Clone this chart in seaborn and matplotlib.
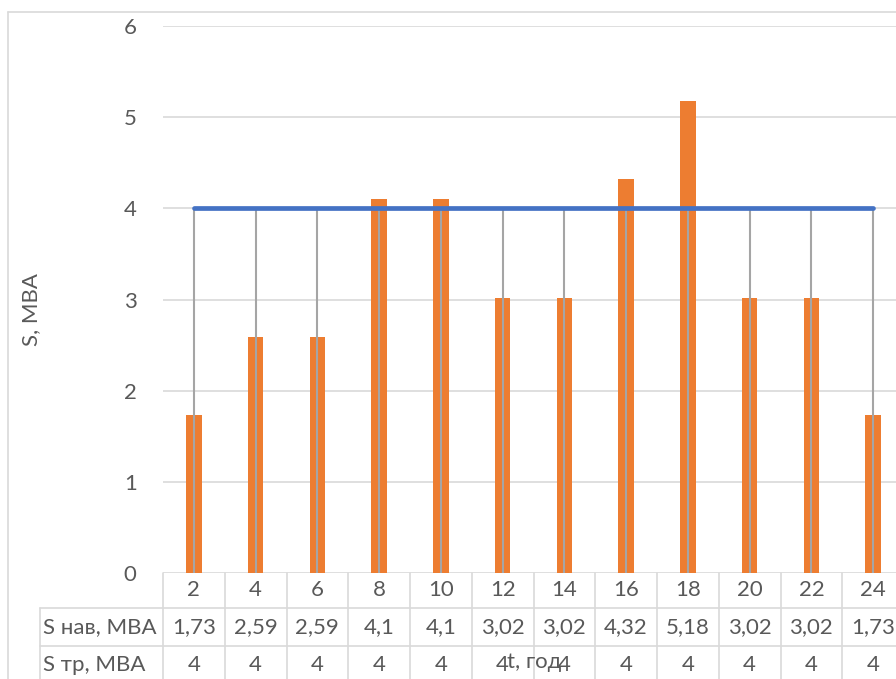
import numpy as np
import pandas as pd
import matplotlib
matplotlib.use("Agg")
import matplotlib.pyplot as plt
import matplotlib.transforms as mtransforms
import seaborn as sns

# Data
hours = [2, 4, 6, 8, 10, 12, 14, 16, 18, 20, 22, 24]
s_load = [1.73, 2.59, 2.59, 4.1, 4.1, 3.02, 3.02, 4.32, 5.18, 3.02, 3.02, 1.73]
s_trans = [4, 4, 4, 4, 4, 4, 4, 4, 4, 4, 4, 4]
row_labels = ["S нав, МВА", "S тр, МВА"]
y_ticks = [0, 1, 2, 3, 4, 5, 6]

sns.set_theme(style="white")
plt.rcParams["font.family"] = ["Lato", "DejaVu Sans"]

TXT = "#595959"
GRID = "#D9D9D9"
ORANGE = "#ED7D31"
BLUE = "#4472C4"
DROP = "#A5A5A5"
FS = 16

W, H = 896, 679
def fx(px):
    return px / W
def fy(py):
    return 1 - py / H

fig = plt.figure(figsize=(W / 100, H / 100), dpi=100)
fig.patch.set_facecolor("white")

# outer chart frame
fig.add_artist(plt.Line2D([fx(8), 1], [fy(12), fy(12)], color=GRID, lw=1.2))
fig.add_artist(plt.Line2D([fx(8), fx(8)], [fy(12), 0], color=GRID, lw=1.2))

ax = fig.add_axes([fx(163), fy(573), (904 - 163) / W, (573 - 26) / H])

df = pd.DataFrame({"t": [str(h) for h in hours], "S": s_load})
sns.barplot(data=df, x="t", y="S", color=ORANGE, width=0.25, saturation=1,
            edgecolor="none", ax=ax, zorder=2)

pos = np.arange(len(hours))
ax.vlines(pos, 0, s_trans, color=DROP, lw=1.5, zorder=3)
sns.lineplot(x=pos, y=s_trans, color=BLUE, lw=3.4, ax=ax, zorder=4,
             solid_capstyle="round")

ax.set_xlim(-0.5, len(hours) - 0.5)
ax.set_ylim(0, 6)
ax.set_yticks(y_ticks)
ax.set_yticklabels([str(v) for v in y_ticks], color=TXT, fontsize=FS)
ax.set_xticks([])
ax.set_xlabel("")
ax.set_ylabel("")
ax.tick_params(axis="y", length=0, pad=19)
for sp in ax.spines.values():
    sp.set_visible(False)
ax.yaxis.grid(True, color=GRID, lw=1.2, zorder=0)
ax.set_axisbelow(True)

# data table under the plot
trans = mtransforms.blended_transform_factory(ax.transData, fig.transFigure)
for b in np.arange(-0.5, len(hours) + 0.5, 1.0):
    ax.plot([b, b], [fy(573), 0], color=GRID, lw=1.2, transform=trans,
            clip_on=False, zorder=1)
for yy in (608, 646):
    fig.add_artist(plt.Line2D([fx(40), 1], [fy(yy), fy(yy)], color=GRID, lw=1.2))
fig.add_artist(plt.Line2D([fx(40), fx(40)], [fy(608), 0], color=GRID, lw=1.2))

def fmt(v):
    return f"{v:g}".replace(".", ",")

for i, h in enumerate(hours):
    ax.text(i, fy(590), str(h), transform=trans, ha="center", va="center",
            color=TXT, fontsize=FS, clip_on=False)
    ax.text(i, fy(627), fmt(s_load[i]), transform=trans, ha="center",
            va="center", color=TXT, fontsize=FS, clip_on=False)
    ax.text(i, fy(665), fmt(s_trans[i]), transform=trans, ha="center",
            va="center", color=TXT, fontsize=FS, clip_on=False)

fig.text(fx(43), fy(627), row_labels[0], ha="left", va="center", color=TXT, fontsize=FS)
fig.text(fx(43), fy(665), row_labels[1], ha="left", va="center", color=TXT, fontsize=FS)

fig.text(fx(534), fy(662), "t, год", ha="center", va="center", color=TXT, fontsize=FS)
fig.text(fx(31), fy(310), "S, МВА", ha="center", va="center", rotation=90,
         color=TXT, fontsize=FS)

fig.savefig("out.png", dpi=100)
